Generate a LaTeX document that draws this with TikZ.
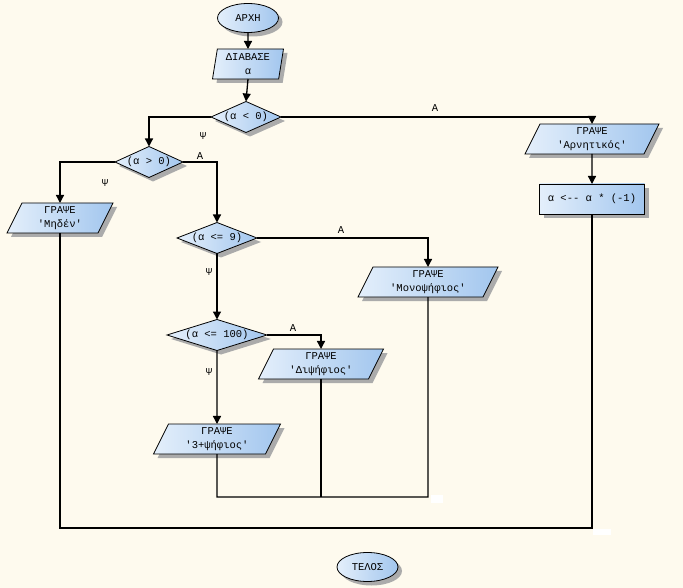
\documentclass[tikz,border=0pt]{standalone}
\usepackage{fontspec}
\setmonofont{Liberation Mono}
\usetikzlibrary{shapes.geometric,shadows,arrows.meta}
\definecolor{bg}{HTML}{FEFAEE}
\definecolor{shL}{HTML}{E4EFFB}
\definecolor{shR}{HTML}{A2C6EE}
\definecolor{shd}{HTML}{ABABAB}
\tikzset{
 base/.style={draw=black, line width=0.8pt, left color=shL, right color=shR,
   drop shadow={shadow xshift=4pt, shadow yshift=-4pt, fill=shd, opacity=1},
   inner sep=0pt, outer sep=0pt, text=black,
   font=\ttfamily\fontsize{10.5}{14}\selectfont, align=center},
 term/.style={base, ellipse, minimum width=61pt, minimum height=29pt},
 iobox/.style={base, trapezium, trapezium left angle=57, trapezium right angle=123,
   trapezium stretches body=true, minimum height=30pt},
 readbox/.style={base, trapezium, trapezium left angle=77, trapezium right angle=103,
   trapezium stretches body=true, minimum height=30pt},
 cond/.style={base, diamond, minimum height=31pt},
 proc/.style={base, rectangle, minimum width=105pt, minimum height=30pt},
 lbl/.style={inner sep=0pt, font=\ttfamily\fontsize{10.5}{12}\selectfont},
 conn/.style={line width=1.3pt, draw=black},
 flow/.style={conn, -{Triangle[length=8pt,width=8pt]}},
 blank/.style={fill=white, draw=none, inner sep=0pt}
}
\begin{document}
\begin{tikzpicture}[x=1pt,y=-1pt]
\fill[bg] (0,0) rectangle (683,588);
\useasboundingbox (0,0) rectangle (683,588);

\node[term] (start) at (248,18) {ΑΡΧΗ};
\node[readbox, minimum width=71pt] (read) at (248,64) {ΔΙΑΒΑΣΕ\\α};
\node[cond, minimum width=70pt] (d1) at (246,117) {\makebox[0pt]{(α < 0)}};
\node[cond, minimum width=68pt] (d2) at (149,162) {\makebox[0pt]{(α > 0)}};
\node[iobox, minimum width=106pt] (zero) at (60,218) {ΓΡΑΨΕ\\'Μηδέν'};
\node[iobox, minimum width=134pt] (neg) at (592,139) {ΓΡΑΨΕ\\'Αρνητικός'};
\node[proc] (mul) at (592,199) {α <-- α * (-1)};
\node[cond, minimum width=80pt] (d3) at (217,238) {\makebox[0pt]{(α <= 9)}};
\node[iobox, minimum width=140pt] (one) at (428,282) {ΓΡΑΨΕ\\'Μονοψήφιος'};
\node[cond, minimum width=100pt] (d4) at (217,335) {\makebox[0pt]{(α <= 100)}};
\node[iobox, minimum width=125pt] (two) at (321,364) {ΓΡΑΨΕ\\'Διψήφιος'};
\node[iobox, minimum width=127pt] (three) at (217,439) {ΓΡΑΨΕ\\'3+ψήφιος'};
\node[term] (end) at (367.5,567) {ΤΕΛΟΣ};

\node[lbl] (a1) at (435,108) {Α};
\node[lbl] (p1) at (203,136) {Ψ};
\node[lbl] (a2) at (200,156) {Α};
\node[lbl] (p2) at (105,183) {Ψ};
\node[lbl] (a3) at (341,230) {Α};
\node[lbl] (p3) at (209,272) {Ψ};
\node[lbl] (a4) at (293,328) {Α};
\node[lbl] (p4) at (209,372) {Ψ};

\coordinate (j1) at (428,497);
\coordinate (j2) at (592,528);

\draw[flow] (start.south) -- (read.north);
\draw[flow] (read.south) -- (d1.north);
\draw[flow] (d1.west) -| (d2.north);
\draw[flow] (d1.east) -| (neg.north);
\draw[flow] (d2.west) -| (zero.north);
\draw[flow] (d2.east) -| (d3.north);
\draw[flow] (neg.south) -- (mul.north);
\draw[flow] (d3.east) -| (one.north);
\draw[flow] (d3.south) -- (d4.north);
\draw[flow] (d4.east) -| (two.north);
\draw[flow] (d4.south) -- (three.north);
\draw[conn] (three.south) |- (j1) -- (one.south);
\draw[conn] (two.south) -- (two.south |- j1);
\draw[conn] (zero.south) |- (j2) -- (mul.south);

\node[blank, minimum width=12pt, minimum height=8pt, anchor=north west] (w1) at (431,495) {};
\node[blank, minimum width=18pt, minimum height=6pt, anchor=north west] (w2) at (593,528.5) {};
\end{tikzpicture}
\end{document}
